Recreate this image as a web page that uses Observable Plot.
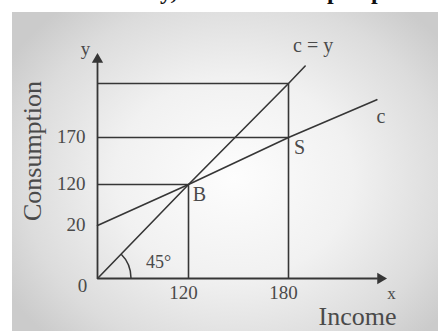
<!DOCTYPE html>
<html>
<head>
<meta charset="utf-8">
<script src="https://cdn.jsdelivr.net/npm/d3@7"></script>
<script src="https://cdn.jsdelivr.net/npm/@observablehq/plot@0.6"></script>
<style>
html, body { margin: 0; padding: 0; background: #fff; }
#wrap { position: relative; width: 438px; height: 331px; overflow: hidden; }
#panel { position: absolute; left: 12px; top: 12px; width: 426px; height: 319px;
  background: radial-gradient(ellipse 62% 70% at 52% 52%, #fdfdfd 0%, #f1f1f1 45%, #dcdcdc 80%, #cbcbcb 100%); }
#top { position: absolute; left: 0; top: 0; width: 438px; height: 6px; overflow: hidden;
  font: bold 24px "Liberation Serif", serif; color: #111; }
#top span { position: absolute; top: -22px; }
#chart { position: absolute; left: 0; top: 0; }
</style>
</head>
<body>
<div id="wrap">
  <div id="panel"></div>
  <div id="top"><span style="left:160px">y,</span><span style="left:327px">p</span><span style="left:371px">p</span></div>
  <div id="chart"></div>
</div>
<script>
// Tick labels
const xTicks = [120, 180];
const yTicks = [20, 120, 170];

// 45-degree line c = y (income values)
const diagIncome = [0, 120, 180, 190];

// Consumption function c
const consIncome = [0, 120, 180, 233];
const consValues = [20, 120, 170, 177];

// Key points
const pointB = {x: 120, y: 120, label: "B"};
const pointS = {x: 180, y: 170, label: "S"};
const pointTop = {x: 180, y: 180};

// Axis extents
const xAxisEnd = 237.6;
const yAxisEnd = 196;

// Schematic (piecewise) scales
const xDomain = [0, 120, 180, 240];
const yDomain = [0, 20, 120, 170, 180, 200];

const ink = "#363636";
const txt = "#4a4a4a";
const font = "'Liberation Serif', 'Times New Roman', serif";

const guides = [
  {x1: 0, y1: pointTop.y, x2: pointTop.x, y2: pointTop.y},
  {x1: 0, y1: pointS.y, x2: pointS.x, y2: pointS.y},
  {x1: 0, y1: pointB.y, x2: pointB.x, y2: pointB.y},
  {x1: pointB.x, y1: 0, x2: pointB.x, y2: pointB.y},
  {x1: pointTop.x, y1: 0, x2: pointTop.x, y2: pointTop.y}
];

const arcMark = (index, scales) => {
  const cx = scales.x(0), cy = scales.y(0), r = 34;
  const a = Math.PI / 4;
  const path = document.createElementNS("http://www.w3.org/2000/svg", "path");
  path.setAttribute("d", `M${cx + r},${cy} A${r},${r} 0 0 0 ${cx + r * Math.cos(a)},${cy - r * Math.sin(a)}`);
  path.setAttribute("fill", "none");
  path.setAttribute("stroke", ink);
  path.setAttribute("stroke-width", 1.5);
  const g = document.createElementNS("http://www.w3.org/2000/svg", "g");
  g.appendChild(path);
  return g;
};

const chart = Plot.plot({
  width: 438,
  height: 331,
  margin: 0,
  style: {background: "transparent", fontFamily: font},
  x: {type: "linear", domain: xDomain, range: [97, 188, 288, 388], axis: null},
  y: {type: "linear", domain: yDomain, range: [278, 225, 184, 137, 83, 48], axis: null},
  marks: [
    // guide lines
    Plot.link(guides, {x1: "x1", y1: "y1", x2: "x2", y2: "y2", stroke: ink, strokeWidth: 1.6}),
    // axes
    Plot.link([{x1: 0, y1: 0, x2: xAxisEnd - 4, y2: 0}], {x1: "x1", y1: "y1", x2: "x2", y2: "y2", stroke: ink, strokeWidth: 1.8}),
    Plot.link([{x1: 0, y1: 0, x2: 0, y2: yAxisEnd - 3}], {x1: "x1", y1: "y1", x2: "x2", y2: "y2", stroke: ink, strokeWidth: 1.8}),
    Plot.dot([{x: xAxisEnd, y: 0}], {x: "x", y: "y", symbol: "triangle", r: 4.2, rotate: 90, fill: ink, dx: -4}),
    Plot.dot([{x: 0, y: yAxisEnd}], {x: "x", y: "y", symbol: "triangle", r: 4.2, rotate: 0, fill: ink, dy: 4}),
    // c = y line
    Plot.line(diagIncome, {x: d => d, y: d => d, stroke: ink, strokeWidth: 1.6}),
    // consumption line
    Plot.line(consIncome.map((x, i) => ({x, y: consValues[i]})), {x: "x", y: "y", stroke: ink, strokeWidth: 1.6}),
    // 45 degree arc
    arcMark,
    // tick labels
    Plot.text(yTicks, {x: 0, y: d => d, text: d => String(d), dx: -12, dy: -1, textAnchor: "end", fontSize: 19, fill: txt}),
    Plot.text([0], {x: 0, y: 0, text: d => String(d), dx: -15, dy: 7, fontSize: 19, fill: txt}),
    Plot.text(xTicks, {x: d => d, y: 0, text: d => String(d), dx: -5, dy: 14, fontSize: 19, fill: txt}),
    // axis names
    Plot.text([{x: 0, y: yAxisEnd}], {x: "x", y: "y", text: () => "y", dx: -12, dy: -7, fontSize: 19, fill: txt}),
    Plot.text([{x: xAxisEnd, y: 0}], {x: "x", y: "y", text: () => "x", dx: 7, dy: 15, fontSize: 17, fill: txt}),
    Plot.text([{x: xAxisEnd, y: 0}], {x: "x", y: "y", text: () => "Income", dx: -27, dy: 38, fontSize: 26, fill: txt}),
    Plot.text(["Consumption"], {frameAnchor: "left", text: d => d, rotate: -90, textAnchor: "middle", dx: 32, dy: -15, fontSize: 26, fill: txt}),
    // point labels
    Plot.text([pointB, pointS], {x: "x", y: "y", text: "label", dx: 11, dy: 10, fontSize: 20, fill: txt}),
    Plot.text([{x: 190, y: 190}], {x: "x", y: "y", text: () => "c = y", dx: 8, dy: -20, fontSize: 20, fill: txt}),
    Plot.text([{x: 233, y: 177}], {x: "x", y: "y", text: () => "c", dx: 4, dy: 17, fontSize: 20, fill: txt}),
    Plot.text([{x: 0, y: 0}], {x: "x", y: "y", text: () => "45°", dx: 61, dy: -16, fontSize: 18, fill: txt})
  ]
});
document.getElementById("chart").appendChild(chart);
</script>
</body>
</html>
